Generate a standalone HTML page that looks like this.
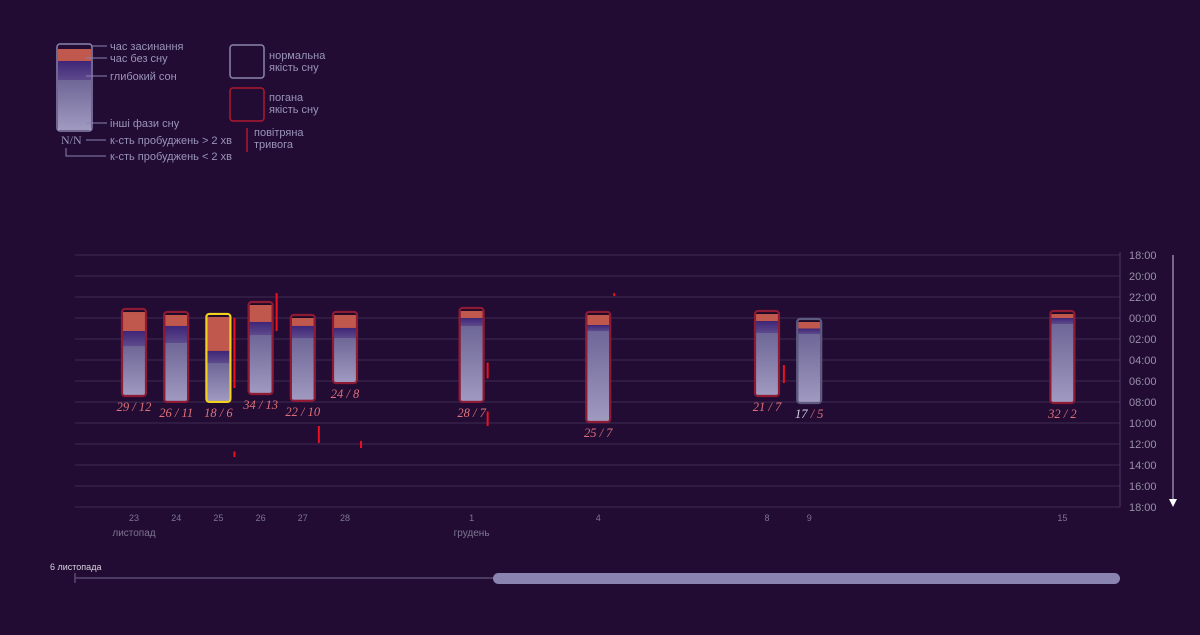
<!DOCTYPE html>
<html><head><meta charset="utf-8">
<style>
html,body{margin:0;padding:0;background:#220c33;}
body{width:1200px;height:630px;overflow:hidden;font-family:"Liberation Sans",sans-serif;}
svg text{font-family:"Liberation Sans",sans-serif;}
svg text.lbl{font-family:"Liberation Serif",serif;font-style:italic;font-size:12.5px;}
svg text.nn{font-family:"Liberation Serif",serif;font-size:12px;}
</style></head>
<body>
<svg id="chart" width="1200" height="630" viewBox="0 0 1200 630" xmlns="http://www.w3.org/2000/svg">
<defs>
<linearGradient id="gOther" x1="0" y1="0" x2="0" y2="1"><stop offset="0" stop-color="#6e6797"/><stop offset="1" stop-color="#a099c0"/></linearGradient>
<linearGradient id="gDeep" x1="0" y1="0" x2="0" y2="1"><stop offset="0" stop-color="#3f2577"/><stop offset="1" stop-color="#5d4a8c"/></linearGradient>
</defs>
<g>
<rect x="57" y="44" width="35" height="87" rx="3" fill="#220c33" stroke="#8a84b0" stroke-width="1.5"/>
<rect x="58" y="49" width="33" height="12" fill="#c0584e"/>
<rect x="58" y="61" width="33" height="19" fill="url(#gDeep)"/>
<rect x="58" y="80" width="33" height="50" fill="url(#gOther)"/>
<g stroke="#8a84b0" stroke-width="1">
<line x1="92" y1="46" x2="107" y2="46"/><line x1="86" y1="58" x2="107" y2="58"/><line x1="86" y1="76" x2="107" y2="76"/><line x1="86" y1="123" x2="107" y2="123"/><line x1="86" y1="140" x2="106" y2="140"/><polyline points="66,148 66,156 106,156" fill="none"/>
</g>
<g fill="#9a94b8" font-size="11">
<text x="110" y="50">час засинання</text><text x="110" y="62">час без сну</text><text x="110" y="80">глибокий сон</text><text x="110" y="127">інші фази сну</text><text x="110" y="144">к-сть пробуджень &gt; 2 хв</text><text x="110" y="160">к-сть пробуджень &lt; 2 хв</text>
<text x="269" y="59">нормальна</text><text x="269" y="71">якість сну</text><text x="269" y="101">погана</text><text x="269" y="113">якість сну</text><text x="254" y="136">повітряна</text><text x="254" y="148">тривога</text>
</g>
<text class="nn" x="61" y="144" fill="#9a94b8">N/N</text>
<rect x="230" y="45" width="34" height="33" rx="3" fill="none" stroke="#8a84b0" stroke-width="1.5"/>
<rect x="230" y="88" width="34" height="33" rx="3" fill="none" stroke="#b0182e" stroke-width="1.5"/>
<line x1="247" y1="128" x2="247" y2="152" stroke="#b0182e" stroke-width="1.5"/>
</g>
<g id="grid"></g>
<g id="bars"></g>
<g id="alerts"></g>
<g id="xaxis"></g>
<line x1="1173" y1="255" x2="1173" y2="500" stroke="#c8c4d8" stroke-width="1"/>
<polygon points="1169,499 1177,499 1173,507" fill="#fff"/>
<g>
<text x="50" y="570" fill="#d8d0e0" font-size="9">6 листопада</text>
<line x1="75" y1="578" x2="1120" y2="578" stroke="#5a4a72" stroke-width="1.5"/>
<line x1="75" y1="573" x2="75" y2="583" stroke="#5a4a72" stroke-width="1.5"/>
<rect x="493" y="573" width="627" height="11" rx="5.5" fill="#8a84b0"/>
</g>
</svg>
<script>
// data: day offset from 23 Nov; times in hours from 18:00
const days=[0,1,2,3,4,5,8,11,15,16,22];
const sleepStart=[5.24,5.52,5.71,4.57,5.81,5.52,5.14,5.52,5.43,6.19,5.43];
const awakeEnd=[7.24,6.76,9.14,6.38,6.76,6.95,6.0,6.67,6.29,7.0,6.0];
const deepEnd=[8.67,8.38,10.29,7.62,7.9,7.9,6.76,7.24,7.43,7.52,6.57];
const sleepEnd=[13.33,13.9,13.9,13.14,13.8,12.1,13.9,15.81,13.33,14.0,14.0];
const wakeLong=[29,26,18,34,22,24,28,25,21,17,32];
const wakeShort=[12,11,6,13,10,8,7,7,7,5,2];
const quality=["bad","bad","bad","bad","bad","bad","bad","bad","bad","good","bad"];
const alertX=[2.38,3.38,2.38,4.38,5.38,8.38,8.38,11.38,15.4];
const alertStart=[6.0,3.62,18.71,16.29,17.71,10.24,14.9,3.62,10.48];
const alertEnd=[12.67,7.24,19.24,17.9,18.38,11.76,16.29,3.9,12.19];
const tickLabels=["18:00","20:00","22:00","00:00","02:00","04:00","06:00","08:00","10:00","12:00","14:00","16:00","18:00"];
const xTickDays=[0,1,2,3,4,5,8,11,15,16,22];
const xTickLabels=["23","24","25","26","27","28","1","4","8","9","15"];
const monthLabels=["листопад","грудень"];
const monthDays=[0,8];

const NS="http://www.w3.org/2000/svg";
const X=d=>134+d*42.2;
const Y=h=>255+h*10.5;
function mk(tag,attrs,parent){const e=document.createElementNS(NS,tag);for(const k in attrs)e.setAttribute(k,attrs[k]);parent.appendChild(e);return e;}
const grid=document.getElementById('grid');
tickLabels.forEach((t,i)=>{
  const l=mk('line',{x1:75,x2:1120,y1:Y(i*2),y2:Y(i*2),stroke:'#3e2c52','stroke-width':1},grid);
  
  
  const tx=mk('text',{x:1129,y:Y(i*2)+4,fill:'#9890a8','font-size':11},grid);
  tx.textContent=t;
  
  
});
const ax=mk('line',{x1:1120,x2:1120,y1:252,y2:507,stroke:'#4a3a60','stroke-width':1},grid);


const bars=document.getElementById('bars');
days.forEach((d,i)=>{
  const g=mk('g',{},bars);
  
  
  const x=X(d)-11,w=22;
  const y0=Y(sleepStart[i]),y1=Y(awakeEnd[i]),y2=Y(deepEnd[i]),y3=Y(sleepEnd[i]);
  const stroke=i===2?'#f2d21a':(quality[i]==='good'?'#5e5a80':'#8e1a34');
  mk('rect',{x:x,y:y0,width:w,height:y3-y0,fill:'#1c0a28'},g);
  mk('rect',{x:x,y:y0+2,width:w,height:y1-y0-2,fill:'#c0584e'},g);
  mk('rect',{x:x,y:y1,width:w,height:y2-y1,fill:'url(#gDeep)'},g);
  mk('rect',{x:x,y:y2,width:w,height:y3-y2,fill:'url(#gOther)'},g);
  mk('rect',{x:x-1,y:y0-1,width:w+2,height:y3-y0+2,rx:3,fill:'none',stroke:stroke,'stroke-width':2.2},g);
  const t=mk('text',{x:X(d),y:y3+16,'text-anchor':'middle',class:'lbl',fill:'#e0707a'},g);
  const a=mk('tspan',{fill:quality[i]==='good'?'#d8d0e8':'#e0707a'},t);a.textContent=wakeLong[i];
  const b=mk('tspan',{},t);b.textContent=' / '+wakeShort[i];
  
  
});
const al=document.getElementById('alerts');
alertX.forEach((d,i)=>{
  const l=mk('line',{x1:X(d),x2:X(d),y1:Y(alertStart[i]),y2:Y(alertEnd[i]),stroke:'#ee1020','stroke-width':2},al);
  
  
});
const xa=document.getElementById('xaxis');
xTickDays.forEach((d,i)=>{
  const t=mk('text',{x:X(d),y:521,'text-anchor':'middle',fill:'#7d7690','font-size':9},xa);
  t.textContent=xTickLabels[i];
  
  
});
monthDays.forEach((d,i)=>{
  const t=mk('text',{x:X(d),y:536,'text-anchor':'middle',fill:'#7d7690','font-size':10},xa);
  t.textContent=monthLabels[i];
  
  
});
</script>
</body></html>
